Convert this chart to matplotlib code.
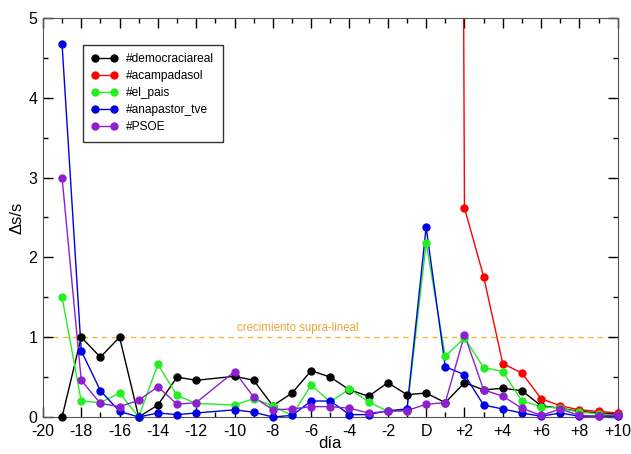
import numpy as np
import matplotlib.pyplot as plt
from matplotlib.ticker import MultipleLocator, FixedLocator

plt.rcParams['font.family'] = ['Liberation Sans', 'DejaVu Sans']

# days relative to D (day -11 missing in the source)
days = [-19, -18, -17, -16, -15, -14, -13, -12, -10, -9, -8, -7, -6, -5, -4,
        -3, -2, -1, 0, 1, 2, 3, 4, 5, 6, 7, 8, 9, 10]

democraciareal = [0, 1.0, 0.75, 1.0, 0, 0.15, 0.5, 0.46, 0.51, 0.46, 0.14, 0.3,
                  0.58, 0.5, 0.34, 0.26, 0.43, 0.28, 0.3, 0.18, 0.43, 0.34,
                  0.36, 0.33, 0.14, 0.11, 0.07, 0.05, 0.04]
el_pais = [1.5, 0.2, 0.18, 0.3, 0, 0.66, 0.27, 0.17, 0.15, 0.23, 0.14, 0.02,
           0.4, 0.19, 0.35, 0.19, 0.07, 0.08, 2.18, 0.76, 0.99, 0.62, 0.57,
           0.2, 0.13, 0.11, 0.06, 0.04, 0.02]
anapastor = [4.67, 0.83, 0.33, 0.07, 0, 0.05, 0.03, 0.05, 0.09, 0.06, 0, 0.02,
             0.2, 0.2, 0.03, 0.03, 0.08, 0.1, 2.38, 0.63, 0.53, 0.15, 0.1,
             0.05, 0.01, 0.05, 0.01, 0.01, 0.01]
psoe = [3.0, 0.46, 0.17, 0.13, 0.21, 0.38, 0.16, 0.18, 0.57, 0.25, 0.09, 0.1,
        0.13, 0.13, 0.11, 0.05, 0.07, 0.08, 0.16, 0.18, 1.03, 0.34, 0.26,
        0.11, 0.02, 0.1, 0.02, 0.01, 0.03]

days_sol = [1, 2, 3, 4, 5, 6, 7, 8, 9, 10]
acampadasol = [60, 2.62, 1.76, 0.67, 0.55, 0.23, 0.14, 0.09, 0.07, 0.05]

series = [
    ("#democraciareal", days, democraciareal, "black"),
    ("#acampadasol", days_sol, acampadasol, "#ff0000"),
    ("#el_pais", days, el_pais, "#22ee22"),
    ("#anapastor_tve", days, anapastor, "#0000e6"),
    ("#PSOE", days, psoe, "#8e1fd0"),
]

xtick_vals = [-20, -18, -16, -14, -12, -10, -8, -6, -4, -2, 0, 2, 4, 6, 8, 10]
xtick_labels = ["-20", "-18", "-16", "-14", "-12", "-10", "-8", "-6", "-4",
                "-2", "D", "+2", "+4", "+6", "+8", "+10"]

fig = plt.figure(figsize=(6.31, 4.54), dpi=100)
ax = fig.add_axes([0.068, 0.0815, 0.911, 0.879])

ymax = 5
for name, x, y, c in series:
    x = np.array(x)
    y = np.array(y)
    ax.plot(x, y, color=c, lw=1.0, zorder=2)
    m = y <= ymax
    ax.plot(x[m], y[m], 'o', color=c, ms=5, clip_on=False, zorder=3)
    # legend handle only
    ax.plot([], [], '-o', color=c, lw=1.0, ms=5, label=name)

ax.axhline(1, color="#f5b74a", ls=(0, (4, 3)), lw=1.0, zorder=1)
ax.text(-9.85, 1.04, "crecimiento supra-lineal", color="#eea53a", fontsize=8.3,
        va="bottom", ha="left")

ax.set_xlim(-20, 10)
ax.set_ylim(0, ymax)
ax.xaxis.set_major_locator(FixedLocator(xtick_vals))
ax.set_xticklabels(xtick_labels)
ax.xaxis.set_minor_locator(MultipleLocator(1))
ax.yaxis.set_major_locator(MultipleLocator(1))
ax.yaxis.set_minor_locator(MultipleLocator(0.5))
ax.tick_params(which="both", direction="in", top=True, right=True,
               labelsize=11.5)
ax.tick_params(axis="x", pad=5)
ax.tick_params(axis="y", pad=4)
ax.tick_params(which="major", length=7, width=1)
ax.tick_params(which="minor", length=3.5, width=1)
for s in ax.spines.values():
    s.set_color("#555555")

ax.set_xlabel("día", fontsize=12, labelpad=-2)
ax.set_ylabel("Δs/s", fontsize=12, labelpad=3)

leg = ax.legend(loc="upper left", bbox_to_anchor=(0.07, 0.932), numpoints=2,
                fontsize=8.6, frameon=True, fancybox=False, framealpha=1,
                edgecolor="#333333", borderaxespad=0, handlelength=2.2,
                labelspacing=0.42, borderpad=0.7, handletextpad=0.7)
leg.get_frame().set_linewidth(1.0)

fig.savefig("out.png", dpi=100)
